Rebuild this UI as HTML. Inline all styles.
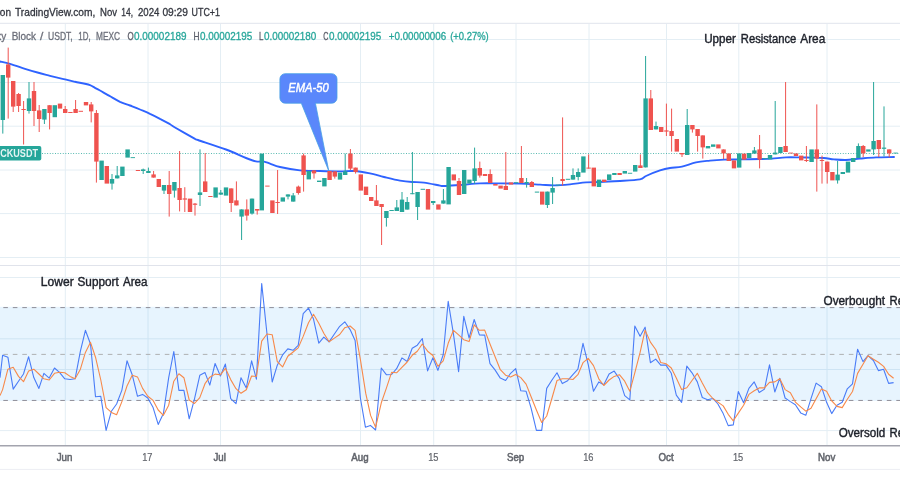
<!DOCTYPE html>
<html lang="en"><head><meta charset="utf-8"><title>Chart</title>
<style>html,body{margin:0;padding:0;background:#fff;overflow:hidden}body{width:900px;height:500px}svg{display:block}</style>
</head><body>
<svg width="900" height="500" viewBox="0 0 900 500">
<rect width="900" height="500" fill="#fff"/>
<defs><filter id="soft" x="0" y="0" width="900" height="500" filterUnits="userSpaceOnUse"><feGaussianBlur stdDeviation="0.5"/></filter></defs>
<g filter="url(#soft)">
<rect x="-20" y="-20" width="940" height="540" fill="#fff"/>
<g stroke="#e4eef4" stroke-width="1" fill="none">
<line x1="65.3" y1="23.3" x2="65.3" y2="445.5"/>
<line x1="148" y1="23.3" x2="148" y2="445.5"/>
<line x1="220.5" y1="23.3" x2="220.5" y2="445.5"/>
<line x1="360.5" y1="23.3" x2="360.5" y2="445.5"/>
<line x1="433.7" y1="23.3" x2="433.7" y2="445.5"/>
<line x1="516" y1="23.3" x2="516" y2="445.5"/>
<line x1="589" y1="23.3" x2="589" y2="445.5"/>
<line x1="666.5" y1="23.3" x2="666.5" y2="445.5"/>
<line x1="738.8" y1="23.3" x2="738.8" y2="445.5"/>
<line x1="827" y1="23.3" x2="827" y2="445.5"/>
<line x1="0" y1="39.5" x2="900" y2="39.5"/>
<line x1="0" y1="82.5" x2="900" y2="82.5"/>
<line x1="0" y1="126.2" x2="900" y2="126.2"/>
<line x1="0" y1="170" x2="900" y2="170"/>
<line x1="0" y1="213.6" x2="900" y2="213.6"/>
<line x1="0" y1="257.5" x2="900" y2="257.5"/>
<line x1="0" y1="277.5" x2="900" y2="277.5"/>
<line x1="0" y1="338.8" x2="900" y2="338.8"/>
<line x1="0" y1="369.5" x2="900" y2="369.5"/>
<line x1="0" y1="430.6" x2="900" y2="430.6"/>
</g>
<line x1="0" y1="23.3" x2="900" y2="23.3" stroke="#e6e9f0" stroke-width="1.2"/>
<line x1="0" y1="265.5" x2="900" y2="265.5" stroke="#e0e3eb" stroke-width="1"/>
<line x1="0" y1="469.4" x2="900" y2="469.4" stroke="#eceef3" stroke-width="1"/>
<line x1="0" y1="445.8" x2="900" y2="445.8" stroke="#a3a4ae" stroke-width="1.4"/>
<rect x="0" y="306.8" width="900" height="94.1" fill="#2196f3" fill-opacity="0.105"/>
<g stroke="#8a8892" stroke-width="0.95" stroke-dasharray="4.6 4.9" fill="none">
<line x1="3.3" y1="307.6" x2="900" y2="307.6"/>
<line x1="3.3" y1="354.4" x2="900" y2="354.4" stroke="#a9a9a9" stroke-width="0.9"/>
<line x1="3.3" y1="400.45" x2="900" y2="400.45"/>
</g>
<line x1="0.4" y1="153.5" x2="900" y2="153.5" stroke="#26a69a" stroke-width="1" stroke-dasharray="0.9 1.7" opacity="0.85"/>
<path d="M0.0 61.5C1.7 61.9 5.8 62.5 10.0 63.8C14.2 65.0 20.4 67.3 25.0 68.8C29.6 70.2 33.3 71.3 37.5 72.5C41.7 73.7 45.8 74.7 50.0 75.8C54.2 76.8 58.3 77.8 62.5 78.8C66.7 79.8 71.1 80.9 75.0 81.8C78.9 82.6 83.5 83.4 86.0 84.0C88.5 84.6 88.5 84.6 90.0 85.2C91.5 85.8 93.3 86.9 95.0 87.8C96.7 88.7 97.5 89.1 100.0 90.5C102.5 91.9 106.7 94.4 110.0 96.2C113.3 98.1 116.7 100.2 120.0 101.8C123.3 103.3 126.7 104.2 130.0 105.5C133.3 106.8 136.7 108.1 140.0 109.5C143.3 110.9 146.7 112.2 150.0 113.8C153.3 115.3 156.7 117.0 160.0 118.8C163.3 120.5 167.5 122.8 170.0 124.2C172.5 125.7 170.8 125.1 175.0 127.5C179.2 129.9 191.2 136.7 195.0 138.8C198.8 140.8 192.8 138.2 198.0 140.0C203.2 141.8 218.0 146.5 226.0 149.5C234.0 152.5 241.0 156.0 246.0 158.0C251.0 160.0 253.0 160.8 256.0 161.4C259.0 162.0 261.7 161.2 264.0 161.6C266.3 162.0 267.3 162.7 270.0 163.6C272.7 164.5 275.0 165.9 280.0 167.0C285.0 168.1 293.3 169.7 300.0 170.4C306.7 171.1 313.3 170.8 320.0 171.0C326.7 171.2 334.3 171.4 340.0 171.4C345.7 171.4 349.0 170.7 354.0 171.0C359.0 171.3 365.0 172.4 370.0 173.4C375.0 174.4 379.0 175.8 384.0 177.0C389.0 178.2 395.3 179.8 400.0 180.6C404.7 181.4 408.0 181.7 412.0 182.0C416.0 182.3 419.3 182.0 424.0 182.6C428.7 183.2 436.7 185.0 440.0 185.6C443.3 186.2 440.7 186.1 444.0 186.0C447.3 185.9 454.0 185.4 460.0 185.0C466.0 184.6 473.3 183.7 480.0 183.4C486.7 183.1 493.3 183.4 500.0 183.4C506.7 183.4 513.3 183.4 520.0 183.6C526.7 183.8 534.3 184.3 540.0 184.6C545.7 184.9 549.0 185.4 554.0 185.4C559.0 185.4 564.7 184.9 570.0 184.4C575.3 183.9 581.0 182.8 586.0 182.4C591.0 182.0 594.3 182.2 600.0 182.0C605.7 181.8 613.3 181.4 620.0 181.0C626.7 180.6 635.7 180.2 640.0 179.4C644.3 178.6 642.7 177.5 646.0 176.0C649.3 174.5 656.0 171.7 660.0 170.4C664.0 169.1 666.3 168.6 670.0 168.0C673.7 167.4 677.7 167.5 682.0 166.6C686.3 165.7 691.3 163.4 696.0 162.4C700.7 161.4 705.3 161.1 710.0 160.6C714.7 160.1 719.0 159.8 724.0 159.6C729.0 159.4 734.0 159.5 740.0 159.4C746.0 159.3 754.7 159.1 760.0 159.0C765.3 158.9 767.7 158.9 772.0 158.6C776.3 158.3 781.3 157.6 786.0 157.4C790.7 157.2 796.0 157.4 800.0 157.4C804.0 157.4 806.0 157.5 810.0 157.6C814.0 157.7 820.0 157.7 824.0 158.0C828.0 158.3 830.3 159.1 834.0 159.4C837.7 159.7 841.7 160.1 846.0 160.0C850.3 159.9 855.0 159.0 860.0 158.6C865.0 158.2 870.3 157.7 876.0 157.4C881.7 157.1 891.0 157.1 894.0 157.0" fill="none" stroke="#2f63ff" stroke-width="1.9" stroke-linejoin="round" stroke-linecap="round"/>
<g stroke-width="1"><line x1="2.8" y1="75.0" x2="2.8" y2="133.6" stroke="#26a69a"/><line x1="8.2" y1="47.6" x2="8.2" y2="118.6" stroke="#ef5350"/><line x1="13.2" y1="81.0" x2="13.2" y2="112.0" stroke="#ef5350"/><line x1="18.6" y1="93.0" x2="18.6" y2="112.0" stroke="#ef5350"/><line x1="23.6" y1="101.0" x2="23.6" y2="144.5" stroke="#ef5350"/><line x1="29.0" y1="82.0" x2="29.0" y2="113.6" stroke="#26a69a"/><line x1="34.0" y1="82.0" x2="34.0" y2="126.0" stroke="#ef5350"/><line x1="39.2" y1="105.0" x2="39.2" y2="132.0" stroke="#ef5350"/><line x1="44.4" y1="109.0" x2="44.4" y2="124.0" stroke="#26a69a"/><line x1="49.6" y1="105.2" x2="49.6" y2="129.4" stroke="#ef5350"/><line x1="65.2" y1="106.0" x2="65.2" y2="113.0" stroke="#ef5350"/><line x1="75.6" y1="100.0" x2="75.6" y2="113.0" stroke="#ef5350"/><line x1="91.2" y1="102.0" x2="91.2" y2="122.4" stroke="#ef5350"/><line x1="96.4" y1="110.0" x2="96.4" y2="182.6" stroke="#ef5350"/><line x1="112.0" y1="174.0" x2="112.0" y2="189.6" stroke="#26a69a"/><line x1="117.2" y1="166.0" x2="117.2" y2="178.4" stroke="#26a69a"/><line x1="143.2" y1="168.6" x2="143.2" y2="174.0" stroke="#26a69a"/><line x1="148.4" y1="167.6" x2="148.4" y2="173.0" stroke="#26a69a"/><line x1="153.6" y1="171.0" x2="153.6" y2="177.6" stroke="#ef5350"/><line x1="164.0" y1="185.0" x2="164.0" y2="194.0" stroke="#26a69a"/><line x1="169.2" y1="171.0" x2="169.2" y2="216.6" stroke="#ef5350"/><line x1="174.4" y1="182.0" x2="174.4" y2="197.6" stroke="#26a69a"/><line x1="179.6" y1="151.0" x2="179.6" y2="211.4" stroke="#ef5350"/><line x1="184.8" y1="187.2" x2="184.8" y2="212.0" stroke="#ef5350"/><line x1="195.0" y1="203.0" x2="195.0" y2="215.6" stroke="#ef5350"/><line x1="200.0" y1="149.4" x2="200.0" y2="206.0" stroke="#26a69a"/><line x1="205.2" y1="153.0" x2="205.2" y2="192.0" stroke="#ef5350"/><line x1="220.8" y1="190.0" x2="220.8" y2="195.0" stroke="#26a69a"/><line x1="231.2" y1="188.4" x2="231.2" y2="212.0" stroke="#ef5350"/><line x1="236.4" y1="181.4" x2="236.4" y2="205.4" stroke="#ef5350"/><line x1="241.6" y1="209.4" x2="241.6" y2="240.0" stroke="#26a69a"/><line x1="246.8" y1="199.4" x2="246.8" y2="220.6" stroke="#ef5350"/><line x1="252.0" y1="198.6" x2="252.0" y2="214.6" stroke="#26a69a"/><line x1="257.2" y1="209.0" x2="257.2" y2="214.6" stroke="#ef5350"/><line x1="277.6" y1="170.0" x2="277.6" y2="214.0" stroke="#ef5350"/><line x1="288.0" y1="194.4" x2="288.0" y2="199.4" stroke="#26a69a"/><line x1="293.2" y1="193.0" x2="293.2" y2="201.6" stroke="#26a69a"/><line x1="298.4" y1="185.6" x2="298.4" y2="194.6" stroke="#ef5350"/><line x1="303.6" y1="153.6" x2="303.6" y2="191.6" stroke="#ef5350"/><line x1="314.0" y1="170.4" x2="314.0" y2="178.6" stroke="#ef5350"/><line x1="334.8" y1="171.4" x2="334.8" y2="178.6" stroke="#ef5350"/><line x1="345.2" y1="153.6" x2="345.2" y2="175.0" stroke="#26a69a"/><line x1="350.4" y1="149.0" x2="350.4" y2="170.0" stroke="#ef5350"/><line x1="355.6" y1="167.6" x2="355.6" y2="173.6" stroke="#ef5350"/><line x1="376.4" y1="185.0" x2="376.4" y2="206.0" stroke="#ef5350"/><line x1="381.6" y1="204.0" x2="381.6" y2="245.0" stroke="#ef5350"/><line x1="386.4" y1="211.0" x2="386.4" y2="226.6" stroke="#26a69a"/><line x1="396.8" y1="200.0" x2="396.8" y2="211.0" stroke="#26a69a"/><line x1="402.0" y1="192.0" x2="402.0" y2="212.0" stroke="#26a69a"/><line x1="407.2" y1="197.0" x2="407.2" y2="209.6" stroke="#26a69a"/><line x1="412.4" y1="152.0" x2="412.4" y2="194.2" stroke="#26a69a"/><line x1="417.6" y1="192.0" x2="417.6" y2="220.0" stroke="#26a69a"/><line x1="433.2" y1="201.0" x2="433.2" y2="205.0" stroke="#26a69a"/><line x1="443.4" y1="189.0" x2="443.4" y2="203.6" stroke="#26a69a"/><line x1="459.0" y1="178.0" x2="459.0" y2="195.0" stroke="#ef5350"/><line x1="474.6" y1="147.6" x2="474.6" y2="184.0" stroke="#26a69a"/><line x1="479.8" y1="161.6" x2="479.8" y2="177.6" stroke="#ef5350"/><line x1="490.2" y1="169.4" x2="490.2" y2="183.0" stroke="#ef5350"/><line x1="505.8" y1="152.0" x2="505.8" y2="190.0" stroke="#ef5350"/><line x1="521.4" y1="146.0" x2="521.4" y2="183.0" stroke="#ef5350"/><line x1="526.6" y1="178.0" x2="526.6" y2="187.6" stroke="#26a69a"/><line x1="531.8" y1="181.0" x2="531.8" y2="187.0" stroke="#ef5350"/><line x1="547.4" y1="191.6" x2="547.4" y2="208.0" stroke="#26a69a"/><line x1="552.6" y1="177.0" x2="552.6" y2="204.0" stroke="#26a69a"/><line x1="562.6" y1="117.4" x2="562.6" y2="185.6" stroke="#ef5350"/><line x1="573.0" y1="168.4" x2="573.0" y2="179.6" stroke="#26a69a"/><line x1="578.2" y1="168.4" x2="578.2" y2="180.4" stroke="#26a69a"/><line x1="588.6" y1="154.4" x2="588.6" y2="168.6" stroke="#ef5350"/><line x1="640.4" y1="154.4" x2="640.4" y2="168.0" stroke="#ef5350"/><line x1="645.6" y1="56.0" x2="645.6" y2="167.4" stroke="#26a69a"/><line x1="650.8" y1="90.0" x2="650.8" y2="130.0" stroke="#ef5350"/><line x1="656.0" y1="121.6" x2="656.0" y2="129.4" stroke="#26a69a"/><line x1="666.4" y1="103.6" x2="666.4" y2="136.0" stroke="#ef5350"/><line x1="671.6" y1="108.6" x2="671.6" y2="151.6" stroke="#ef5350"/><line x1="682.0" y1="153.0" x2="682.0" y2="157.0" stroke="#ef5350"/><line x1="687.2" y1="109.0" x2="687.2" y2="155.0" stroke="#26a69a"/><line x1="692.4" y1="125.0" x2="692.4" y2="132.6" stroke="#ef5350"/><line x1="697.6" y1="129.0" x2="697.6" y2="151.6" stroke="#ef5350"/><line x1="702.8" y1="135.4" x2="702.8" y2="158.6" stroke="#ef5350"/><line x1="723.6" y1="149.4" x2="723.6" y2="159.0" stroke="#ef5350"/><line x1="754.4" y1="147.0" x2="754.4" y2="153.6" stroke="#26a69a"/><line x1="759.6" y1="135.0" x2="759.6" y2="168.4" stroke="#ef5350"/><line x1="775.2" y1="101.0" x2="775.2" y2="154.4" stroke="#26a69a"/><line x1="785.6" y1="82.0" x2="785.6" y2="152.0" stroke="#ef5350"/><line x1="806.4" y1="146.0" x2="806.4" y2="162.0" stroke="#ef5350"/><line x1="816.8" y1="104.4" x2="816.8" y2="191.6" stroke="#ef5350"/><line x1="822.0" y1="155.6" x2="822.0" y2="183.6" stroke="#ef5350"/><line x1="827.2" y1="161.6" x2="827.2" y2="183.6" stroke="#ef5350"/><line x1="837.6" y1="161.0" x2="837.6" y2="183.6" stroke="#26a69a"/><line x1="858.4" y1="143.4" x2="858.4" y2="158.0" stroke="#26a69a"/><line x1="863.2" y1="145.0" x2="863.2" y2="157.0" stroke="#ef5350"/><line x1="873.6" y1="82.0" x2="873.6" y2="155.0" stroke="#26a69a"/><line x1="878.8" y1="140.0" x2="878.8" y2="157.0" stroke="#ef5350"/><line x1="884.0" y1="106.4" x2="884.0" y2="156.4" stroke="#26a69a"/><line x1="889.2" y1="149.4" x2="889.2" y2="157.4" stroke="#ef5350"/></g>
<g><rect x="0.6" y="75.0" width="4.4" height="45.0" fill="#26a69a"/><rect x="6.0" y="64.4" width="4.4" height="13.2" fill="#ef5350"/><rect x="11.0" y="81.0" width="4.4" height="25.6" fill="#ef5350"/><rect x="16.4" y="94.0" width="4.4" height="12.0" fill="#ef5350"/><rect x="21.4" y="109.0" width="4.4" height="1.0" fill="#ef5350"/><rect x="26.8" y="98.4" width="4.4" height="12.6" fill="#26a69a"/><rect x="31.8" y="91.0" width="4.4" height="20.0" fill="#ef5350"/><rect x="37.0" y="110.4" width="4.4" height="8.6" fill="#ef5350"/><rect x="42.2" y="109.0" width="4.4" height="10.6" fill="#26a69a"/><rect x="47.4" y="105.2" width="4.4" height="7.8" fill="#ef5350"/><rect x="52.6" y="105.2" width="4.4" height="12.0" fill="#26a69a"/><rect x="57.8" y="103.6" width="4.4" height="5.0" fill="#ef5350"/><rect x="63.0" y="109.0" width="4.4" height="4.0" fill="#ef5350"/><rect x="68.2" y="112.0" width="4.4" height="1.0" fill="#ef5350"/><rect x="73.4" y="109.0" width="4.4" height="4.0" fill="#ef5350"/><rect x="78.6" y="110.8" width="4.4" height="1.0" fill="#ef5350"/><rect x="83.8" y="102.0" width="4.4" height="3.4" fill="#ef5350"/><rect x="89.0" y="104.4" width="4.4" height="7.0" fill="#ef5350"/><rect x="94.2" y="113.0" width="4.4" height="48.6" fill="#ef5350"/><rect x="99.4" y="160.6" width="4.4" height="19.4" fill="#26a69a"/><rect x="104.6" y="166.0" width="4.4" height="17.6" fill="#ef5350"/><rect x="109.8" y="179.0" width="4.4" height="4.6" fill="#26a69a"/><rect x="115.0" y="175.4" width="4.4" height="3.0" fill="#26a69a"/><rect x="120.2" y="166.6" width="4.4" height="9.4" fill="#26a69a"/><rect x="125.4" y="149.4" width="4.4" height="8.2" fill="#26a69a"/><rect x="130.6" y="157.2" width="4.4" height="0.9" fill="#26a69a"/><rect x="135.8" y="170.0" width="4.4" height="1.0" fill="#ef5350"/><rect x="141.0" y="169.4" width="4.4" height="1.6" fill="#26a69a"/><rect x="146.2" y="171.0" width="4.4" height="2.0" fill="#26a69a"/><rect x="151.4" y="174.4" width="4.4" height="3.2" fill="#ef5350"/><rect x="156.6" y="179.0" width="4.4" height="8.0" fill="#ef5350"/><rect x="161.8" y="185.0" width="4.4" height="5.6" fill="#26a69a"/><rect x="167.0" y="185.0" width="4.4" height="9.0" fill="#ef5350"/><rect x="172.2" y="182.0" width="4.4" height="8.6" fill="#26a69a"/><rect x="177.4" y="188.0" width="4.4" height="12.0" fill="#ef5350"/><rect x="182.6" y="198.4" width="4.4" height="1.2" fill="#ef5350"/><rect x="187.8" y="198.6" width="4.4" height="13.4" fill="#ef5350"/><rect x="192.8" y="203.6" width="4.4" height="1.2" fill="#ef5350"/><rect x="197.8" y="192.4" width="4.4" height="2.6" fill="#26a69a"/><rect x="203.0" y="181.4" width="4.4" height="10.6" fill="#ef5350"/><rect x="208.2" y="196.0" width="4.4" height="1.0" fill="#ef5350"/><rect x="213.4" y="187.4" width="4.4" height="10.2" fill="#26a69a"/><rect x="218.6" y="192.6" width="4.4" height="2.0" fill="#26a69a"/><rect x="223.8" y="187.4" width="4.4" height="8.2" fill="#26a69a"/><rect x="229.0" y="188.4" width="4.4" height="14.6" fill="#ef5350"/><rect x="234.2" y="200.4" width="4.4" height="5.0" fill="#ef5350"/><rect x="239.4" y="209.4" width="4.4" height="7.2" fill="#26a69a"/><rect x="244.6" y="209.4" width="4.4" height="6.2" fill="#ef5350"/><rect x="249.8" y="198.6" width="4.4" height="15.0" fill="#26a69a"/><rect x="255.0" y="209.0" width="4.4" height="1.6" fill="#ef5350"/><rect x="259.6" y="153.6" width="4.4" height="56.8" fill="#26a69a"/><rect x="265.2" y="185.6" width="4.4" height="1.0" fill="#ef5350"/><rect x="270.2" y="200.4" width="4.4" height="12.6" fill="#ef5350"/><rect x="275.4" y="202.0" width="4.4" height="1.0" fill="#ef5350"/><rect x="280.6" y="197.4" width="4.4" height="4.2" fill="#26a69a"/><rect x="285.8" y="194.4" width="4.4" height="2.2" fill="#26a69a"/><rect x="291.0" y="195.4" width="4.4" height="6.2" fill="#26a69a"/><rect x="296.2" y="186.6" width="4.4" height="6.4" fill="#ef5350"/><rect x="301.4" y="155.4" width="4.4" height="19.6" fill="#ef5350"/><rect x="306.6" y="171.0" width="4.4" height="8.4" fill="#26a69a"/><rect x="311.8" y="170.4" width="4.4" height="3.0" fill="#ef5350"/><rect x="317.0" y="180.6" width="4.4" height="1.4" fill="#26a69a"/><rect x="322.2" y="178.0" width="4.4" height="8.4" fill="#26a69a"/><rect x="327.4" y="171.0" width="4.4" height="9.0" fill="#ef5350"/><rect x="332.6" y="171.4" width="4.4" height="5.2" fill="#ef5350"/><rect x="337.8" y="172.6" width="4.4" height="7.0" fill="#26a69a"/><rect x="343.0" y="171.4" width="4.4" height="3.6" fill="#26a69a"/><rect x="348.2" y="153.6" width="4.4" height="15.0" fill="#ef5350"/><rect x="353.4" y="167.6" width="4.4" height="4.4" fill="#ef5350"/><rect x="358.6" y="174.4" width="4.4" height="16.2" fill="#ef5350"/><rect x="363.8" y="186.6" width="4.4" height="8.4" fill="#ef5350"/><rect x="369.0" y="197.0" width="4.4" height="4.0" fill="#ef5350"/><rect x="374.2" y="200.4" width="4.4" height="5.6" fill="#ef5350"/><rect x="379.4" y="204.0" width="4.4" height="3.0" fill="#ef5350"/><rect x="384.2" y="211.0" width="4.4" height="7.0" fill="#26a69a"/><rect x="389.4" y="210.0" width="4.4" height="1.0" fill="#26a69a"/><rect x="394.6" y="207.4" width="4.4" height="3.6" fill="#26a69a"/><rect x="399.8" y="199.6" width="4.4" height="12.4" fill="#26a69a"/><rect x="405.0" y="202.0" width="4.4" height="7.6" fill="#26a69a"/><rect x="410.2" y="193.2" width="4.4" height="1.0" fill="#26a69a"/><rect x="415.4" y="192.0" width="4.4" height="15.0" fill="#26a69a"/><rect x="420.6" y="188.8" width="4.4" height="1.0" fill="#26a69a"/><rect x="425.8" y="189.0" width="4.4" height="20.6" fill="#ef5350"/><rect x="431.0" y="201.0" width="4.4" height="2.0" fill="#26a69a"/><rect x="436.2" y="204.4" width="4.4" height="5.2" fill="#ef5350"/><rect x="441.2" y="200.4" width="4.4" height="3.2" fill="#26a69a"/><rect x="446.4" y="167.0" width="4.4" height="37.4" fill="#26a69a"/><rect x="451.6" y="174.4" width="4.4" height="6.0" fill="#ef5350"/><rect x="456.8" y="181.0" width="4.4" height="14.0" fill="#ef5350"/><rect x="462.0" y="170.0" width="4.4" height="24.0" fill="#26a69a"/><rect x="467.2" y="179.6" width="4.4" height="4.0" fill="#26a69a"/><rect x="472.4" y="168.4" width="4.4" height="12.6" fill="#26a69a"/><rect x="477.6" y="168.0" width="4.4" height="7.6" fill="#ef5350"/><rect x="482.8" y="174.0" width="4.4" height="2.0" fill="#ef5350"/><rect x="488.0" y="174.0" width="4.4" height="9.0" fill="#ef5350"/><rect x="493.2" y="184.0" width="4.4" height="1.6" fill="#ef5350"/><rect x="498.4" y="185.6" width="4.4" height="3.0" fill="#ef5350"/><rect x="503.6" y="186.0" width="4.4" height="4.0" fill="#ef5350"/><rect x="508.8" y="182.4" width="4.4" height="2.2" fill="#ef5350"/><rect x="514.0" y="182.2" width="4.4" height="1.0" fill="#26a69a"/><rect x="519.2" y="178.0" width="4.4" height="5.0" fill="#ef5350"/><rect x="524.4" y="182.0" width="4.4" height="1.2" fill="#26a69a"/><rect x="529.6" y="182.0" width="4.4" height="5.0" fill="#ef5350"/><rect x="534.8" y="191.6" width="4.4" height="1.0" fill="#26a69a"/><rect x="540.0" y="191.6" width="4.4" height="13.0" fill="#ef5350"/><rect x="545.2" y="191.6" width="4.4" height="13.4" fill="#26a69a"/><rect x="550.4" y="188.0" width="4.4" height="4.6" fill="#26a69a"/><rect x="555.6" y="184.6" width="4.4" height="1.0" fill="#26a69a"/><rect x="560.4" y="179.0" width="4.4" height="2.0" fill="#ef5350"/><rect x="565.8" y="178.8" width="4.4" height="1.0" fill="#26a69a"/><rect x="570.8" y="175.0" width="4.4" height="4.6" fill="#26a69a"/><rect x="576.0" y="172.0" width="4.4" height="5.0" fill="#26a69a"/><rect x="581.2" y="156.4" width="4.4" height="16.2" fill="#26a69a"/><rect x="586.4" y="167.6" width="4.4" height="1.0" fill="#ef5350"/><rect x="591.6" y="167.6" width="4.4" height="18.8" fill="#ef5350"/><rect x="596.8" y="179.6" width="4.4" height="7.4" fill="#26a69a"/><rect x="602.0" y="179.6" width="4.4" height="2.4" fill="#ef5350"/><rect x="607.0" y="174.4" width="4.4" height="5.6" fill="#26a69a"/><rect x="612.2" y="173.0" width="4.4" height="2.0" fill="#26a69a"/><rect x="617.4" y="173.0" width="4.4" height="2.0" fill="#ef5350"/><rect x="622.6" y="171.0" width="4.4" height="2.6" fill="#26a69a"/><rect x="627.8" y="172.8" width="4.4" height="0.9" fill="#26a69a"/><rect x="633.0" y="165.0" width="4.4" height="6.6" fill="#26a69a"/><rect x="638.2" y="165.4" width="4.4" height="2.6" fill="#ef5350"/><rect x="643.4" y="98.4" width="4.4" height="69.0" fill="#26a69a"/><rect x="648.6" y="98.4" width="4.4" height="31.6" fill="#ef5350"/><rect x="653.8" y="126.0" width="4.4" height="3.4" fill="#26a69a"/><rect x="659.0" y="127.0" width="4.4" height="5.0" fill="#ef5350"/><rect x="664.2" y="130.4" width="4.4" height="1.2" fill="#ef5350"/><rect x="669.4" y="131.0" width="4.4" height="5.0" fill="#ef5350"/><rect x="674.6" y="139.0" width="4.4" height="12.6" fill="#ef5350"/><rect x="679.8" y="153.0" width="4.4" height="1.4" fill="#ef5350"/><rect x="685.0" y="125.0" width="4.4" height="30.0" fill="#26a69a"/><rect x="690.2" y="125.0" width="4.4" height="4.4" fill="#ef5350"/><rect x="695.4" y="129.0" width="4.4" height="7.0" fill="#ef5350"/><rect x="700.6" y="135.4" width="4.4" height="12.0" fill="#ef5350"/><rect x="705.8" y="146.0" width="4.4" height="2.4" fill="#26a69a"/><rect x="711.0" y="144.4" width="4.4" height="2.4" fill="#26a69a"/><rect x="716.2" y="144.4" width="4.4" height="4.0" fill="#ef5350"/><rect x="721.4" y="149.4" width="4.4" height="4.0" fill="#ef5350"/><rect x="726.6" y="153.4" width="4.4" height="7.6" fill="#ef5350"/><rect x="731.8" y="160.4" width="4.4" height="8.0" fill="#ef5350"/><rect x="737.0" y="153.4" width="4.4" height="14.2" fill="#26a69a"/><rect x="742.0" y="153.6" width="4.4" height="6.0" fill="#ef5350"/><rect x="747.0" y="153.0" width="4.4" height="5.0" fill="#26a69a"/><rect x="752.2" y="150.4" width="4.4" height="3.2" fill="#26a69a"/><rect x="757.4" y="149.4" width="4.4" height="10.2" fill="#ef5350"/><rect x="762.6" y="158.2" width="4.4" height="0.9" fill="#26a69a"/><rect x="767.8" y="155.0" width="4.4" height="4.4" fill="#26a69a"/><rect x="773.0" y="152.6" width="4.4" height="1.8" fill="#26a69a"/><rect x="778.2" y="147.0" width="4.4" height="6.0" fill="#26a69a"/><rect x="783.4" y="146.0" width="4.4" height="6.0" fill="#ef5350"/><rect x="788.6" y="152.6" width="4.4" height="0.9" fill="#ef5350"/><rect x="793.8" y="153.4" width="4.4" height="2.6" fill="#ef5350"/><rect x="799.0" y="155.6" width="4.4" height="4.8" fill="#ef5350"/><rect x="804.2" y="160.0" width="4.4" height="1.0" fill="#ef5350"/><rect x="809.4" y="149.4" width="4.4" height="12.6" fill="#26a69a"/><rect x="814.6" y="149.4" width="4.4" height="9.2" fill="#ef5350"/><rect x="819.8" y="160.0" width="4.4" height="1.0" fill="#ef5350"/><rect x="825.0" y="161.6" width="4.4" height="10.4" fill="#ef5350"/><rect x="830.2" y="172.0" width="4.4" height="8.4" fill="#ef5350"/><rect x="835.4" y="174.6" width="4.4" height="5.8" fill="#26a69a"/><rect x="840.6" y="172.0" width="4.4" height="2.0" fill="#26a69a"/><rect x="845.8" y="161.6" width="4.4" height="11.0" fill="#26a69a"/><rect x="851.0" y="158.0" width="4.4" height="4.0" fill="#26a69a"/><rect x="856.2" y="146.0" width="4.4" height="12.0" fill="#26a69a"/><rect x="861.0" y="146.0" width="4.4" height="7.4" fill="#ef5350"/><rect x="866.2" y="149.4" width="4.4" height="2.2" fill="#26a69a"/><rect x="871.4" y="141.0" width="4.4" height="8.4" fill="#26a69a"/><rect x="876.6" y="140.0" width="4.4" height="9.0" fill="#ef5350"/><rect x="881.8" y="147.6" width="4.4" height="1.2" fill="#26a69a"/><rect x="887.0" y="149.4" width="4.4" height="4.0" fill="#ef5350"/><rect x="893.4" y="152.6" width="4.4" height="0.9" fill="#26a69a"/></g>
<path d="M279.9 79 a5.3 5.3 0 0 1 5.3 -5.3 h46.5 a5.3 5.3 0 0 1 5.3 5.3 v18.9 a5.3 5.3 0 0 1 -5.3 5.3 h-16.3 L328.8 171 L301.3 103.2 h-16.1 a5.3 5.3 0 0 1 -5.3 -5.3 Z" fill="#5a87fb" stroke="#46a0e4" stroke-width="0.8" stroke-linejoin="round"/>
<text x="288.2" y="91.6" font-family="'Liberation Sans',sans-serif" font-size="12.5" font-style="italic" textLength="40.6" lengthAdjust="spacingAndGlyphs" fill="#fff" stroke="#fff" stroke-width="0.45">EMA-50</text>
<polyline points="0.0,377.6 2.6,355.3 7.9,357.2 13.2,389.1 18.5,381.2 23.5,374.0 28.6,356.7 33.8,377.6 38.9,388.4 43.9,373.3 49.2,378.1 54.5,368.0 59.5,372.3 64.8,378.8 70.1,379.5 75.1,378.8 80.4,351.2 85.4,330.3 90.5,344.0 95.5,396.8 100.8,396.3 106.1,430.4 111.4,411.2 116.6,404.0 121.9,390.1 127.0,360.8 132.2,374.7 137.5,396.3 142.6,394.4 147.8,398.0 153.1,407.6 158.2,424.4 163.4,413.6 168.7,377.6 173.8,351.5 178.9,390.4 183.9,390.4 189.2,418.8 194.5,398.8 199.8,375.3 205.0,372.6 209.8,385.1 215.1,363.5 220.4,376.0 225.4,364.0 230.7,398.6 236.0,403.6 241.0,377.7 246.3,388.0 251.6,360.9 256.4,379.1 261.7,283.6 267.0,334.0 272.2,382.0 277.3,365.2 282.6,354.9 287.8,348.9 293.1,350.3 298.2,345.3 303.2,313.6 308.5,308.1 313.5,319.1 318.8,343.1 323.8,337.1 329.1,341.9 334.4,334.0 339.7,326.3 344.8,321.8 350.1,329.6 355.1,340.4 360.4,398.0 365.4,427.2 370.4,425.4 375.6,430.0 381.3,368.0 386.3,374.7 391.6,374.5 396.6,368.7 401.9,357.9 407.2,361.5 412.2,348.3 417.3,345.2 422.3,338.5 427.6,370.9 432.9,357.7 437.9,370.4 443.2,354.8 448.2,301.3 453.5,334.4 458.6,371.6 463.8,316.4 469.1,338.0 474.2,319.5 479.4,334.9 484.7,335.1 490.0,363.7 495.0,369.9 500.3,378.1 505.6,380.5 510.6,373.3 515.7,368.6 520.8,390.8 526.1,391.3 531.1,408.1 536.4,430.4 541.7,430.4 546.7,388.4 552.0,380.0 557.0,372.8 562.3,383.6 567.6,380.7 572.9,374.7 577.9,369.2 583.0,343.3 588.2,364.4 593.5,391.3 598.8,381.9 603.8,384.8 609.1,374.0 614.2,371.1 619.4,378.8 624.7,395.6 629.8,399.9 634.8,326.0 640.1,336.3 645.1,327.2 650.4,362.7 655.7,359.1 660.7,365.1 666.0,365.1 671.3,373.3 676.3,395.1 681.6,402.3 686.8,366.1 692.0,372.8 697.3,381.9 702.3,397.5 707.6,399.7 712.9,398.5 717.9,404.0 723.2,413.6 728.2,425.6 733.3,424.9 738.3,391.5 743.6,402.8 748.9,388.4 754.2,381.9 759.2,392.5 764.5,389.1 769.5,364.9 774.8,392.0 779.8,378.3 785.1,398.0 790.4,401.6 795.4,404.7 800.7,412.9 805.8,415.3 811.0,398.7 816.1,383.1 821.4,386.7 826.6,402.3 831.7,413.6 837.0,405.2 842.2,402.3 847.3,388.8 852.5,383.8 857.6,349.2 863.0,361.6 868.0,355.6 873.4,360.5 878.4,370.6 883.6,369.2 888.6,383.4 893.6,382.6" fill="none" stroke="#4a7cf7" stroke-width="1.1" stroke-linejoin="round"/>
<polyline points="0.0,395.6 2.6,389.6 7.9,369.2 13.2,367.3 18.5,376.4 23.5,381.7 28.6,370.9 33.8,369.2 38.9,374.0 43.9,378.8 49.2,380.0 54.5,373.3 59.5,372.3 64.8,372.8 70.1,376.4 75.1,378.8 80.4,369.2 85.4,352.4 90.5,342.3 95.5,357.2 100.8,380.0 106.1,407.6 111.4,412.4 116.6,414.8 121.9,401.6 127.0,386.0 132.2,375.2 137.5,376.9 142.6,388.4 147.8,396.3 153.1,400.4 158.2,410.0 163.4,415.3 168.7,405.2 173.8,381.2 178.9,373.8 183.9,377.7 189.2,400.0 194.5,403.5 199.8,397.6 205.0,383.7 209.8,377.2 215.1,374.1 220.4,374.8 225.4,368.3 230.7,379.6 236.0,388.7 241.0,393.3 246.3,389.7 251.6,376.0 256.4,376.5 261.7,341.2 267.0,334.0 272.2,334.7 277.3,361.6 282.6,366.9 287.8,356.3 293.1,352.0 298.2,347.9 303.2,336.4 308.5,322.7 313.5,314.3 318.8,323.2 323.8,333.3 329.1,341.7 334.4,338.1 339.7,334.5 344.8,327.7 350.1,326.0 355.1,330.3 360.4,359.6 365.7,393.2 370.6,415.4 375.6,427.4 381.3,402.8 386.3,388.4 391.6,372.3 396.6,372.8 401.9,367.3 407.2,362.0 412.2,355.3 417.3,351.2 422.3,344.0 427.6,351.2 432.9,355.5 437.9,366.3 443.2,360.8 448.2,343.3 453.5,330.3 458.6,334.9 463.8,339.7 469.1,341.6 474.2,324.8 479.4,330.3 484.7,330.1 490.0,344.0 495.0,356.5 500.3,369.7 505.6,375.2 510.6,377.1 515.7,374.5 520.8,377.6 526.1,384.1 531.1,396.8 536.4,410.0 541.7,422.5 546.7,416.0 552.0,398.0 557.0,380.5 562.3,378.8 567.6,378.8 572.9,379.5 577.9,374.7 583.0,362.7 588.2,358.4 593.5,365.6 598.8,378.8 603.8,385.5 609.1,380.0 614.2,376.4 619.4,374.7 624.7,381.2 629.8,391.3 634.8,372.8 640.1,352.4 645.1,330.1 650.4,342.1 655.7,349.5 660.7,362.5 666.0,363.7 671.3,368.0 676.3,378.1 681.6,389.6 686.8,387.7 692.0,380.5 697.3,373.3 702.3,383.1 707.6,392.7 712.9,398.5 717.9,402.1 723.2,405.9 728.2,414.3 733.3,420.8 738.3,413.1 743.6,405.2 748.9,394.4 754.2,390.8 759.2,387.9 764.5,387.9 769.5,382.4 774.8,381.9 779.8,378.8 785.1,389.6 790.4,392.7 795.4,402.1 800.7,406.9 805.8,411.2 811.0,408.3 816.1,398.7 821.4,389.1 826.6,391.3 831.7,400.9 837.0,406.4 842.2,407.6 847.3,399.2 852.5,391.5 857.6,373.4 863.0,364.2 868.0,355.8 873.4,359.2 878.4,362.3 883.6,366.4 888.6,374.2 893.6,378.2" fill="none" stroke="#f7894a" stroke-width="1.1" stroke-linejoin="round"/>
<rect x="-4" y="146" width="45.3" height="14.5" rx="1.8" fill="#26a69a"/>
<text x="-6.9" y="157" font-family="'Liberation Sans',sans-serif" font-size="11.2" font-weight="bold" fill="#fff" fill-opacity="0.88" textLength="44.9" lengthAdjust="spacingAndGlyphs">OCKUSDT</text>
<g font-family="'Liberation Sans',sans-serif" font-size="11" fill="#33363f" stroke="#33363f" stroke-width="0.3" >
<text x="-0.20" y="16.4" textLength="11.20" lengthAdjust="spacingAndGlyphs">on</text>
<text x="15.00" y="16.4" textLength="80.30" lengthAdjust="spacingAndGlyphs">TradingView.com,</text>
<text x="100.00" y="16.4" textLength="17.00" lengthAdjust="spacingAndGlyphs">Nov</text>
<text x="121.30" y="16.4" textLength="11.70" lengthAdjust="spacingAndGlyphs">14,</text>
<text x="138.00" y="16.4" textLength="21.40" lengthAdjust="spacingAndGlyphs">2024</text>
<text x="162.40" y="16.4" textLength="25.60" lengthAdjust="spacingAndGlyphs">09:29</text>
<text x="191.60" y="16.4" textLength="28.40" lengthAdjust="spacingAndGlyphs">UTC+1</text>
</g>
<g font-family="'Liberation Sans',sans-serif" font-size="11" fill="#6b6e79" stroke="#6b6e79" stroke-width="0.3" >
<text x="-3.80" y="39.8" textLength="10.00" lengthAdjust="spacingAndGlyphs">ky</text>
<text x="11.70" y="39.8" textLength="24.30" lengthAdjust="spacingAndGlyphs">Block</text>
<text x="40.00" y="39.8" textLength="3.30" lengthAdjust="spacingAndGlyphs">/</text>
<text x="48.00" y="39.8" textLength="24.70" lengthAdjust="spacingAndGlyphs">USDT,</text>
<text x="78.30" y="39.8" textLength="12.40" lengthAdjust="spacingAndGlyphs">1D,</text>
<text x="96.00" y="39.8" textLength="24.00" lengthAdjust="spacingAndGlyphs">MEXC</text>
</g>
<g font-family="'Liberation Sans',sans-serif" font-size="11" fill="#5a5d68" stroke="#5a5d68" stroke-width="0.3" >
<text x="127.40" y="39.8" textLength="6.20" lengthAdjust="spacingAndGlyphs">O</text>
<text x="193.40" y="39.8" textLength="6.00" lengthAdjust="spacingAndGlyphs">H</text>
<text x="259.00" y="39.8" textLength="4.40" lengthAdjust="spacingAndGlyphs">L</text>
<text x="323.20" y="39.8" textLength="5.20" lengthAdjust="spacingAndGlyphs">C</text>
</g>
<g font-family="'Liberation Sans',sans-serif" font-size="11" fill="#26a69a" stroke="#26a69a" stroke-width="0.3" >
<text x="134.00" y="39.8" textLength="52.50" lengthAdjust="spacingAndGlyphs">0.00002189</text>
<text x="200.00" y="39.8" textLength="52.30" lengthAdjust="spacingAndGlyphs">0.00002195</text>
<text x="264.00" y="39.8" textLength="52.30" lengthAdjust="spacingAndGlyphs">0.00002180</text>
<text x="328.90" y="39.8" textLength="52.30" lengthAdjust="spacingAndGlyphs">0.00002195</text>
<text x="388.80" y="39.8" textLength="57.40" lengthAdjust="spacingAndGlyphs">+0.00000006</text>
<text x="450.20" y="39.8" textLength="38.50" lengthAdjust="spacingAndGlyphs">(+0.27%)</text>
</g>
<g font-family="'Liberation Sans',sans-serif" font-size="12.4" fill="#20232c" stroke="#20232c" stroke-width="0.4" >
<text x="704.20" y="42.7" textLength="31.60" lengthAdjust="spacingAndGlyphs">Upper</text>
<text x="740.80" y="42.7" textLength="55.50" lengthAdjust="spacingAndGlyphs">Resistance</text>
<text x="800.30" y="42.7" textLength="24.90" lengthAdjust="spacingAndGlyphs">Area</text>
</g>
<g font-family="'Liberation Sans',sans-serif" font-size="12.4" fill="#20232c" stroke="#20232c" stroke-width="0.4" >
<text x="40.80" y="286.0" textLength="32.90" lengthAdjust="spacingAndGlyphs">Lower</text>
<text x="77.50" y="286.0" textLength="41.20" lengthAdjust="spacingAndGlyphs">Support</text>
<text x="123.00" y="286.0" textLength="24.50" lengthAdjust="spacingAndGlyphs">Area</text>
</g>
<g font-family="'Liberation Sans',sans-serif" font-size="12.4" fill="#20232c" stroke="#20232c" stroke-width="0.4" >
<text x="823.50" y="304.7" textLength="61.50" lengthAdjust="spacingAndGlyphs">Overbought</text>
<text x="889.60" y="304.7" textLength="14.50" lengthAdjust="spacingAndGlyphs">Re</text>
</g>
<g font-family="'Liberation Sans',sans-serif" font-size="12.4" fill="#20232c" stroke="#20232c" stroke-width="0.4" >
<text x="838.70" y="436.5" textLength="46.60" lengthAdjust="spacingAndGlyphs">Oversold</text>
<text x="889.60" y="436.5" textLength="14.50" lengthAdjust="spacingAndGlyphs">Re</text>
</g>
<g font-family="'Liberation Sans',sans-serif" font-size="10.8" fill="#62656c" text-anchor="middle">
<text transform="translate(64.6,460.9) scale(0.9,1)" stroke="#62656c" stroke-width="0.55">Jun</text>
<text transform="translate(147.3,460.9) scale(0.86,1)" stroke="#62656c" stroke-width="0.2">17</text>
<text transform="translate(219.6,460.9) scale(0.9,1)" stroke="#62656c" stroke-width="0.55">Jul</text>
<text transform="translate(360.0,460.9) scale(0.9,1)" stroke="#62656c" stroke-width="0.55">Aug</text>
<text transform="translate(433.3,460.9) scale(0.86,1)" stroke="#62656c" stroke-width="0.2">15</text>
<text transform="translate(515.6,460.9) scale(0.9,1)" stroke="#62656c" stroke-width="0.55">Sep</text>
<text transform="translate(588.3,460.9) scale(0.86,1)" stroke="#62656c" stroke-width="0.2">16</text>
<text transform="translate(666.1,460.9) scale(0.9,1)" stroke="#62656c" stroke-width="0.55">Oct</text>
<text transform="translate(738.0999999999999,460.9) scale(0.86,1)" stroke="#62656c" stroke-width="0.2">15</text>
<text transform="translate(826.6,460.9) scale(0.9,1)" stroke="#62656c" stroke-width="0.55">Nov</text>
</g>
</g>
</svg>
</body></html>
